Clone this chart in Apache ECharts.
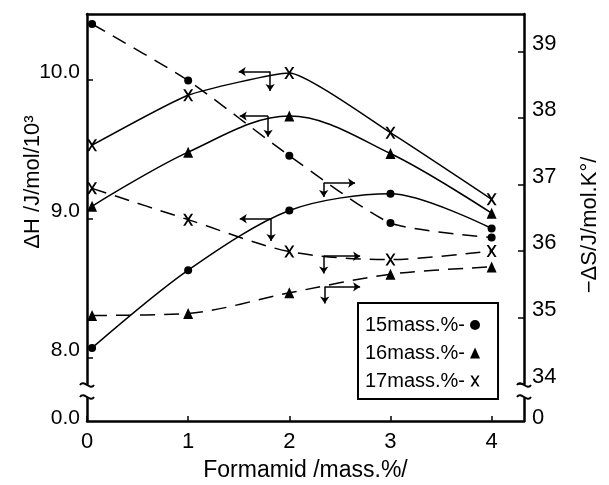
<!DOCTYPE html>
<html>
<head>
<meta charset="utf-8">
<script src="https://cdn.jsdelivr.net/npm/echarts@6/dist/echarts.min.js"></script>
<style>html,body{margin:0;padding:0;background:#fff}#main{width:609px;height:485px}</style>
</head>
<body>
<div id="main"></div>
<script>
//formamid / mass.%  (x=0 points sit just off the axis in the picture)
var xs = [0.05, 1, 2, 3, 4]
var names = ['15mass.%', '16mass.%', '17mass.%']
//dH, J/mol/10^3 (left axis, solid)
var dH15 = [8.07, 8.63, 9.06, 9.18, 8.93]
var dH16 = [9.09, 9.48, 9.74, 9.47, 9.04]
var dH17 = [9.53, 9.89, 10.05, 9.62, 9.14]
//-dS, J/mol.K (right axis, dashed)
var dS15 = [39.41, 38.56, 37.43, 36.42, 36.20]
var dS16 = [35.03, 35.06, 35.37, 35.65, 35.76]
var dS17 = [36.94, 36.47, 35.99, 35.87, 36.00]
var ticksH = [8, 9, 10]
var ticksS = [34, 35, 36, 37, 38, 39]
var ticksX = [0, 1, 2, 3, 4]
//axis pointer arrows: [corner, horizontal end, vertical end]
var arrowsH = [
  [[1.82, 9.0], [1.51, 9.0], [1.82, 8.84]],
  [[1.79, 9.74], [1.51, 9.74], [1.79, 9.59]],
  [[1.81, 10.06], [1.50, 10.06], [1.81, 9.92]]
]
var arrowsS = [
  [[2.34, 37.02], [2.65, 37.02], [2.34, 36.81]],
  [[2.35, 35.46], [2.70, 35.46], [2.35, 35.21]],
  [[2.34, 35.92], [2.70, 35.92], [2.34, 35.66]]
]

var FONT = "'Liberation Sans Narrow','Liberation Sans',Arial,sans-serif"
var X_PATH = 'path://M0,0L2.2,0L5,4.4L7.8,0L10,0L6.1,6L10,12L7.8,12L5,7.6L2.2,12L0,12L3.9,6Z'
var syms = ['circle', 'triangle', X_PATH]
var symSizes = [8, [10, 11], [10, 12]]
var smoothH = [0.3, 0.35, 0.15]
var smoothS = [0.2, 0.3, 0.3]
var L = 87, R = 85
var txt = (s)=>Object.assign({color:'#000', fontFamily:FONT, fontSize:21}, s||{})
var axLine = {show:true, onZero:false, lineStyle:{color:'#000', width:2.5}}
var tick = {inside:true, length:6, lineStyle:{color:'#000', width:1.5}}

var pts = a=>a.map((v,i)=>[xs[i], v])
var arw = a=>({
  silent:true, symbol:['none','arrow'], symbolSize:7, animation:false,
  label:{show:false}, lineStyle:{color:'#000', width:1.5, type:'solid'},
  data:[[{coord:a[0]},{coord:a[1]}],[{coord:a[0]},{coord:a[2]}]]
})

var series = []
;[dH15, dH16, dH17].forEach((d,i)=>series.push({
  name:names[i], type:'line', xAxisIndex:0, yAxisIndex:0, data:pts(d), smooth:smoothH[i],
  symbol:syms[i], symbolSize:symSizes[i], itemStyle:{color:'#000'},
  lineStyle:{color:'#000', width:1.5}, markLine:arw(arrowsH[i])
}))
;[dS15, dS16, dS17].forEach((d,i)=>series.push({
  name:names[i], type:'line', xAxisIndex:0, yAxisIndex:1, data:pts(d), smooth:smoothS[i],
  symbol:syms[i], symbolSize:symSizes[i], itemStyle:{color:'#000'},
  lineStyle:{color:'#000', width:1.5, type:[15,9]}, markLine:arw(arrowsS[i])
}))

var brk = (x,y)=>({type:'bezierCurve', silent:true,
  shape:{x1:x-7, y1:y, cpx1:x-3, cpy1:y-6, cpx2:x+3, cpy2:y+6, x2:x+7, y2:y},
  style:{stroke:'#000', lineWidth:2, fill:null}})

var opt = {
  animation:false,
  backgroundColor:'#fff',
  grid:[
    {left:L, right:R, top:14, height:370},
    {left:L, right:R, top:398, height:23}
  ],
  xAxis:[
    {gridIndex:0, type:'value', position:'top', min:0, max:4.32, axisLine:axLine,
     axisTick:{show:false}, axisLabel:{show:false}, splitLine:{show:false}},
    {gridIndex:1, type:'value', min:0, max:4.32, interval:1, axisLine:axLine,
     axisTick:Object.assign({}, tick, {length:5, customValues:ticksX}),
     axisLabel:{customValues:ticksX, margin:10, ...txt({fontSize:22})},
     splitLine:{show:false},
     name:'Formamid /mass.%/', nameLocation:'middle', nameGap:38, nameMoveOverlap:false,
     nameTextStyle:txt({fontSize:23})}
  ],
  yAxis:[
    {gridIndex:0, type:'value', min:7.81, max:10.475, axisLine:axLine, splitLine:{show:false},
     axisTick:Object.assign({}, tick, {customValues:ticksH}),
     axisLabel:{customValues:ticksH, margin:7, formatter:v=>v.toFixed(1), verticalAlign:'bottom', lineHeight:15, ...txt()},
     name:'ΔH /J/mol/10³', nameLocation:'middle', nameRotate:90, nameGap:43, nameMoveOverlap:false,
     nameTextStyle:txt({fontSize:22, padding:[0,0,0,34]})},
    {gridIndex:0, type:'value', position:'right', min:34, max:39.56, axisLine:axLine, splitLine:{show:false},
     axisTick:Object.assign({}, tick, {customValues:ticksS}),
     axisLabel:{customValues:ticksS, margin:8, verticalAlign:'bottom', lineHeight:15, ...txt({fontSize:22})},
     name:'−ΔS/J/mol.K°/', nameLocation:'middle', nameRotate:90, nameGap:55, nameMoveOverlap:false,
     nameTextStyle:txt({fontSize:22, padding:[0,52,0,0]})},
    {gridIndex:1, type:'value', min:0, max:1, axisLine:axLine, splitLine:{show:false},
     axisTick:{show:false}, axisLabel:{customValues:[0], margin:7, formatter:v=>v.toFixed(1), verticalAlign:'bottom', lineHeight:6, ...txt()}},
    {gridIndex:1, type:'value', position:'right', min:0, max:1, axisLine:axLine, splitLine:{show:false},
     axisTick:{show:false}, axisLabel:{customValues:[0], margin:8, verticalAlign:'bottom', lineHeight:6, ...txt({fontSize:22})}}
  ],
  legend:{
    orient:'vertical', left:358, top:303, align:'right', itemGap:8,
    itemWidth:10, itemHeight:11, padding:[12,18,8,7],
    borderColor:'#000', borderWidth:2, backgroundColor:'#fff',
    formatter:n=>n+'-', textStyle:txt({fontSize:20}),
    data:names.map((n,i)=>({name:n, icon:syms[i]}))
  },
  graphic:[brk(L,385), brk(L,397), brk(609-R,385), brk(609-R,397)],
  series:series
}

var chart = echarts.init(document.getElementById('main'))
chart.setOption(opt)
</script>
</body>
</html>
